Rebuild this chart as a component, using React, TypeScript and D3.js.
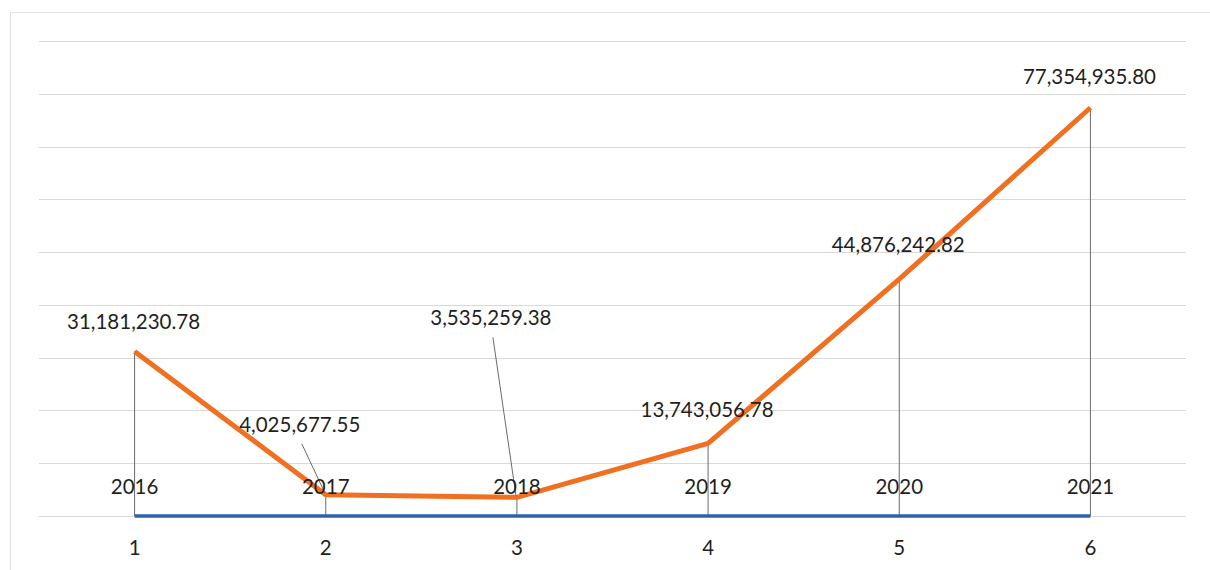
import React, { useRef, useEffect } from "react";
import { select, scalePoint, scaleLinear, line } from "d3";

const categories = ["1", "2", "3", "4", "5", "6"];
const yearSeries = [2016, 2017, 2018, 2019, 2020, 2021];
const amountSeries = [
  31181230.78, 4025677.55, 3535259.38, 13743056.78, 44876242.82, 77354935.8,
];
const amountLabels = [
  "31,181,230.78",
  "4,025,677.55",
  "3,535,259.38",
  "13,743,056.78",
  "44,876,242.82",
  "77,354,935.80",
];

// label placement relative to the point (dx, dy of baseline), leader flag
const labelOffsets = [
  { dx: -1, dy: -22, leader: false },
  { dx: -26, dy: -63, leader: true },
  { dx: -26, dy: -172, leader: true },
  { dx: -1, dy: -26, leader: false },
  { dx: -1, dy: -27, leader: false },
  { dx: -1, dy: -24, leader: false },
];

const WIDTH = 1210;
const HEIGHT = 570;
const FONT = "Lato, 'Open Sans', sans-serif";
const LABEL_SIZE = 20.5;

const App = () => {
  const svgRef = useRef(null);

  useEffect(() => {
    const svg = select(svgRef.current);
    svg.selectAll("*").remove();

    const plot = { left: 39, right: 1186, top: 41, bottom: 516 };

    const x = scalePoint()
      .domain(categories)
      .range([plot.left, plot.right])
      .padding(0.5);

    const y = scaleLinear().domain([0, 90000000]).range([plot.bottom, plot.top]);

    svg.append("rect").attr("width", WIDTH).attr("height", HEIGHT).attr("fill", "#fff");

    // chart border
    svg
      .append("rect")
      .attr("x", 10.5)
      .attr("y", 12.5)
      .attr("width", WIDTH)
      .attr("height", HEIGHT)
      .attr("fill", "none")
      .attr("stroke", "#e3e3e3");

    // gridlines
    svg
      .append("g")
      .selectAll("line")
      .data(y.ticks(9))
      .enter()
      .append("line")
      .attr("x1", plot.left)
      .attr("x2", plot.right)
      .attr("y1", (d) => Math.round(y(d)) + 0.5)
      .attr("y2", (d) => Math.round(y(d)) + 0.5)
      .attr("stroke", "#d9d9d9")
      .attr("stroke-width", 1);

    // drop lines
    svg
      .append("g")
      .selectAll("line")
      .data(amountSeries)
      .enter()
      .append("line")
      .attr("x1", (d, i) => x(categories[i]))
      .attr("x2", (d, i) => x(categories[i]))
      .attr("y1", (d) => y(d))
      .attr("y2", (d, i) => y(yearSeries[i]))
      .attr("stroke", "#6b6b6b")
      .attr("stroke-width", 1);

    const path = line()
      .x((d) => d[0])
      .y((d) => d[1]);

    // year series (blue)
    svg
      .append("path")
      .attr("d", path(yearSeries.map((v, i) => [x(categories[i]), y(v)])))
      .attr("fill", "none")
      .attr("stroke", "#2f62ad")
      .attr("stroke-width", 3.5);

    // amount series (orange)
    svg
      .append("path")
      .attr("d", path(amountSeries.map((v, i) => [x(categories[i]), y(v)])))
      .attr("fill", "none")
      .attr("stroke", "#f07022")
      .attr("stroke-width", 5)
      .attr("stroke-linejoin", "round");

    // leader lines
    amountSeries.forEach((v, i) => {
      const o = labelOffsets[i];
      if (!o.leader) return;
      const px = x(categories[i]);
      const py = y(v);
      svg
        .append("line")
        .attr("x1", px + o.dx + 2)
        .attr("y1", py + o.dy + 12)
        .attr("x2", px - 1)
        .attr("y2", py - 2)
        .attr("stroke", "#6b6b6b")
        .attr("stroke-width", 1);
    });

    // amount labels
    svg
      .append("g")
      .selectAll("text")
      .data(amountSeries)
      .enter()
      .append("text")
      .attr("x", (d, i) => x(categories[i]) + labelOffsets[i].dx)
      .attr("y", (d, i) => y(d) + labelOffsets[i].dy)
      .attr("text-anchor", "middle")
      .attr("font-family", FONT)
      .attr("font-size", LABEL_SIZE)
      .attr("fill", "#1f1f1f")
      .text((d, i) => amountLabels[i]);

    // year labels
    svg
      .append("g")
      .selectAll("text")
      .data(yearSeries)
      .enter()
      .append("text")
      .attr("x", (d, i) => x(categories[i]))
      .attr("y", (d) => y(d) - 22)
      .attr("text-anchor", "middle")
      .attr("font-family", FONT)
      .attr("font-size", LABEL_SIZE)
      .attr("fill", "#1f1f1f")
      .text((d) => d);

    // x axis labels
    svg
      .append("g")
      .selectAll("text")
      .data(categories)
      .enter()
      .append("text")
      .attr("x", (d) => x(d))
      .attr("y", plot.bottom + 39)
      .attr("text-anchor", "middle")
      .attr("font-family", FONT)
      .attr("font-size", LABEL_SIZE)
      .attr("fill", "#1f1f1f")
      .text((d) => d);
  }, []);

  return (
    <svg
      ref={svgRef}
      width={WIDTH}
      height={HEIGHT}
      style={{ position: "absolute", left: 0, top: 0 }}
    />
  );
};

export default App;
